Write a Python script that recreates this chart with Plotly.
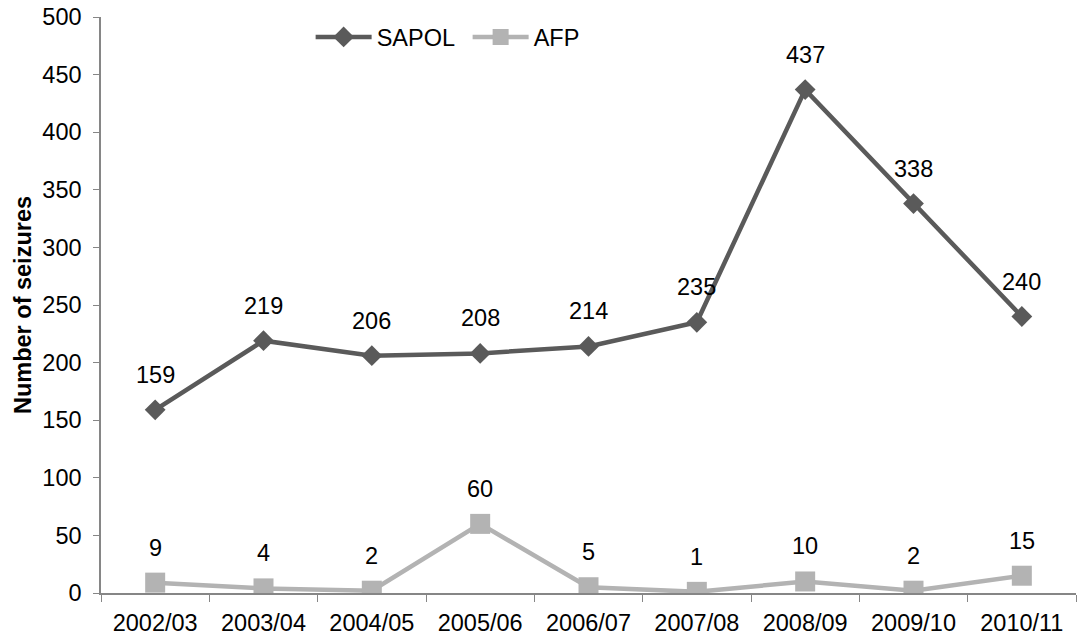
import plotly.graph_objects as go

years = ["2002/03", "2003/04", "2004/05", "2005/06", "2006/07", "2007/08", "2008/09", "2009/10", "2010/11"]
sapol = [159, 219, 206, 208, 214, 235, 437, 338, 240]
afp = [9, 4, 2, 60, 5, 1, 10, 2, 15]
y_ticks = [0, 50, 100, 150, 200, 250, 300, 350, 400, 450, 500]

SAPOL_C = "#5a5a5a"
AFP_C = "#b3b3b3"
FONT = "Liberation Sans, Arial, sans-serif"

fig = go.Figure()
fig.add_trace(go.Scatter(x=years, y=sapol, name="SAPOL", mode="lines+markers",
                         line=dict(color=SAPOL_C, width=4.5),
                         marker=dict(symbol="diamond", size=16, color=SAPOL_C)))
fig.add_trace(go.Scatter(x=years, y=afp, name="AFP", mode="lines+markers",
                         line=dict(color=AFP_C, width=4.5),
                         marker=dict(symbol="square", size=20, color=AFP_C)))

annotations = []
for series in (sapol, afp):
    for x, v in zip(years, series):
        annotations.append(dict(x=x, y=v, text=str(v), showarrow=False, yshift=35,
                                font=dict(size=23.5, color="black", family=FONT)))

fig.update_layout(
    width=1086, height=636,
    margin=dict(l=101, r=10, t=17, b=43, autoexpand=False),
    plot_bgcolor="white", paper_bgcolor="white",
    font=dict(family=FONT, size=23.5, color="black"),
    showlegend=True,
    legend=dict(orientation="h", x=0.215, y=0.965, xanchor="left", yanchor="middle",
                font=dict(size=23.5), bgcolor="rgba(0,0,0,0)", itemwidth=56, entrywidth=86),
    annotations=annotations,
    xaxis=dict(type="category", range=[-0.5, 8.5], showline=True, linecolor="#868686", linewidth=1.5,
               ticks="outside", tickson="boundaries", ticklen=7, tickcolor="#868686",
               ticklabelstandoff=8,
               showgrid=False, tickfont=dict(size=23.5), automargin=False),
    yaxis=dict(range=[0, 500], tickvals=y_ticks, showline=True, linecolor="#868686", linewidth=1.5,
               ticks="outside", ticklen=6, tickcolor="#868686", showgrid=False, zeroline=False,
               ticklabelstandoff=7,
               tickfont=dict(size=23.5), automargin=False,
               title=dict(text="<b>Number of seizures</b>", font=dict(size=23.5), standoff=4)),
)

fig.write_html("out.html")
